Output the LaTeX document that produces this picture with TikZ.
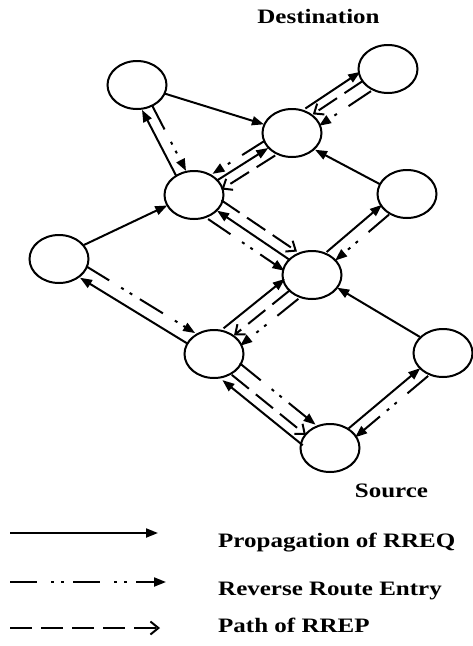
\documentclass[tikz,border=0pt]{standalone}
\usepackage{graphicx}
\usepackage{fontspec}
\setmainfont{Liberation Serif}
\usetikzlibrary{arrows.meta,calc,shapes.geometric}

\tikzset{
  station/.style={ellipse, draw, line width=2pt, minimum width=59pt,
    minimum height=48pt, inner sep=0pt},
  link/.style={line width=2pt, line cap=butt},
  rreq/.style={link, -{Triangle[length=12pt,width=9pt]}},
  rrev/.style={link, dash pattern=on 27pt off 14pt on 3pt off 7pt on 3pt off 9pt,
    -{Triangle[length=12pt,width=9pt]}},
  rrep/.style={link, dash pattern=on 22pt off 9pt,
    -{Straight Barb[length=8pt,width=13pt,line width=2pt]}},
  legendtext/.style={font=\bfseries\fontsize{20.5}{24}\selectfont, inner sep=0pt},
}

% \wire{style}{from}{to}{offset}: a link from one station to another, moved
% sideways by the offset (pt, to the left of travel), ending on the ellipses.
\newcommand\wire[4]{%
  \draw[#1] let \p1=($(#3)-(#2)$), \n1={atan2(\y1,\x1)},
      \n2={735/sqrt(600.25*cos(\n1)*cos(\n1)+900*sin(\n1)*sin(\n1))},
      \n3={sqrt(\n2*\n2-(#4)*(#4))*1pt},
      \p2=($(#2)!#4pt!90:(#3)$), \p3=($(#3)!#4pt!-90:(#2)$)
    in ($(\p2)!\n3!(\p3)$) -- ($(\p3)!\n3!(\p2)$);}

\begin{document}
\begin{tikzpicture}[x=1pt,y=-1pt]
\useasboundingbox (0,0) rectangle (473,646);

% stations
\node[station] (A) at (137,85) {};
\node[station] (D) at (388,69) {};
\node[station] (B) at (292,133) {};
\node[station] (C) at (194,195) {};
\node[station] (E) at (407,194) {};
\node[station] (F) at (59,259) {};
\node[station] (G) at (312,275) {};
\node[station] (H) at (214,354) {};
\node[station] (I) at (443,353) {};
\node[station] (S) at (330,448) {};

\node[legendtext, anchor=base] (dst) at (318.5,23) {\scalebox{1.22}[1]{Destination}};
\node[legendtext, anchor=base] (src) at (391.5,497) {\scalebox{1.22}[1]{Source}};

% route request flooding
\wire{rreq}{A}{B}{0}
\wire{rreq}{B}{D}{13}
\wire{rreq}{C}{B}{0}
\wire{rreq}{C}{A}{7}
\wire{rreq}{E}{B}{4}
\wire{rreq}{F}{C}{2}
\wire{rreq}{G}{C}{0}
\wire{rreq}{H}{G}{14}
\wire{rreq}{G}{E}{8}
\wire{rreq}{H}{F}{5}
\wire{rreq}{I}{G}{-2}
\wire{rreq}{S}{H}{15}
\wire{rreq}{S}{I}{3}

% reverse route entries
\wire{rrev}{D}{B}{9}
\wire{rrev}{B}{C}{-8}
\wire{rrev}{A}{C}{4}
\wire{rrev}{C}{G}{-12}
\wire{rrev}{G}{H}{10}
\wire{rrev}{E}{G}{4}
\wire{rrev}{F}{H}{8}
\wire{rrev}{H}{S}{9}
\wire{rrev}{I}{S}{8}

% route reply
\wire{rrep}{D}{B}{-4}
\wire{rrep}{B}{C}{10}
\wire{rrep}{C}{G}{11}
\wire{rrep}{G}{H}{-2}
\wire{rrep}{H}{S}{-5}

% legend
\coordinate (k1a) at (10,533);  \coordinate (k1b) at (158,533);
\coordinate (k2a) at (10,582);  \coordinate (k2b) at (166,582);
\coordinate (k3a) at (10,628);  \coordinate (k3b) at (160,628);
\draw[rreq] (k1a) -- (k1b);
\draw[rrev] (k2a) -- (k2b);
\draw[rrep] (k3a) -- (k3b);
\node[legendtext, anchor=base west] (t1) at (218,547) {\scalebox{1.22}[1]{Propagation of RREQ}};
\node[legendtext, anchor=base west] (t2) at (218,595) {\scalebox{1.22}[1]{Reverse Route Entry}};
\node[legendtext, anchor=base west] (t3) at (218,632) {\scalebox{1.22}[1]{Path of RREP}};
\end{tikzpicture}
\end{document}
